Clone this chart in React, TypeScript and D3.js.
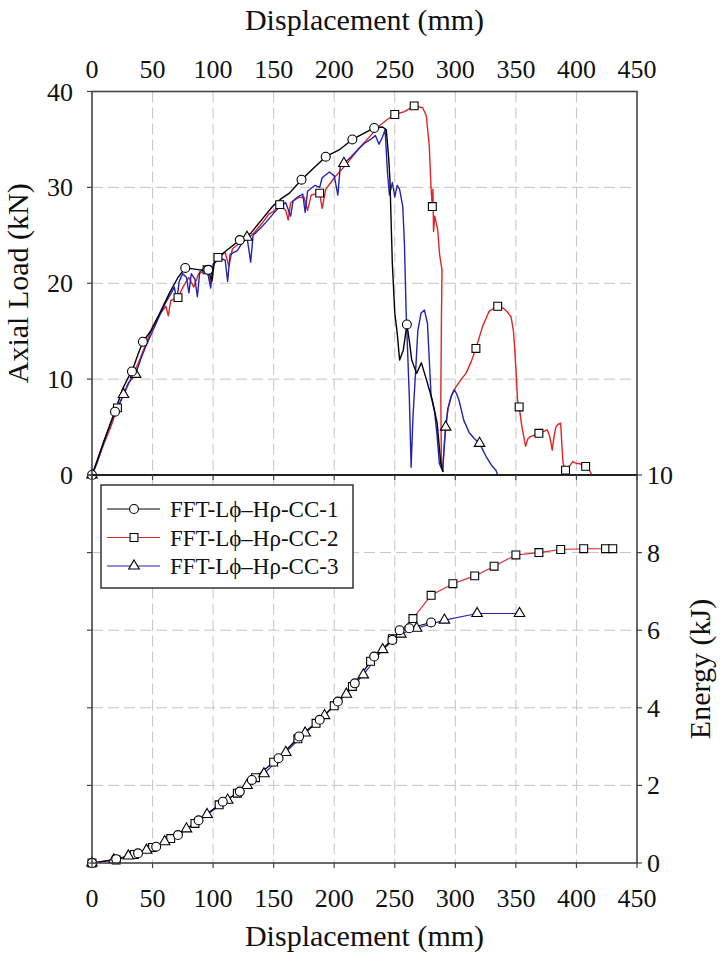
import React, { useEffect, useRef } from 'react';
import * as d3 from 'd3';

// ---------- data ----------
const xTicks = [0, 50, 100, 150, 200, 250, 300, 350, 400, 450];
const loadTicks = [0, 10, 20, 30, 40];
const energyTicks = [0, 2, 4, 6, 8, 10];
const seriesNames = ['FFT-L\u03d5\u2013H\u03c1-CC-1', 'FFT-L\u03d5\u2013H\u03c1-CC-2', 'FFT-L\u03d5\u2013H\u03c1-CC-3'];

// Axial load (kN) vs displacement (mm)
const cc1Load: [number, number][] = [
  [0, 0], [5, 1.8], [10, 3.6], [15, 5.3], [19, 6.6], [25, 8.9], [30, 10.2], [33, 10.8], [38, 12.6], [42, 13.9],
  [49, 15.1], [56, 16.9], [64, 19], [71, 20.6], [77, 21.6], [83, 21.5], [89, 21.4], [96, 21.4], [99, 20.2], [101, 22.2],
  [108, 23.1], [115, 23.8], [122, 24.5], [131, 25.2], [138, 26.3], [149, 28], [156, 28.8], [163, 29.4], [173, 30.8],
  [182, 31.9], [193, 33.2], [204, 33.9], [215, 35], [224, 35.6], [233, 36.2], [240, 36.3], [243, 36], [245, 33],
  [246, 30.8], [248, 22], [250, 16.9], [252, 14.8], [254, 12], [257, 13], [260, 15.7], [262, 14], [264, 12],
  [268, 10.6], [272, 11.7], [276, 10], [281, 7.8], [285, 5.4], [288, 1.2], [290, 0.3],
];
const cc2Load: [number, number][] = [
  [0, 0], [5, 1.6], [10, 3.3], [16, 5.2], [21, 7], [27, 8.6], [33, 10.3], [38, 11.6], [44, 13.5], [50, 15.5],
  [56, 16.8], [61, 17.6], [63, 16.6], [65, 18.2], [71, 18.5], [76, 19.8], [80, 20.6], [84, 19.6], [88, 21],
  [95, 21.4], [98, 20], [100, 21.8], [104, 22.7], [110, 23.2], [113, 21.8], [116, 23.6], [122, 24.2], [128, 24.6],
  [134, 25.3], [140, 26.2], [146, 27.2], [150, 27.5], [155, 28.2], [160, 27.6], [162, 26.6], [164, 28.4],
  [170, 28.9], [175, 29], [178, 27.6], [181, 29.2], [188, 29.4], [190, 27.8], [193, 29.8], [200, 31],
  [210, 32.4], [220, 34], [230, 35.4], [237, 36.4], [243, 37], [250, 37.6], [258, 37.9], [266, 38.5],
  [273, 38.3], [276, 37.5], [278.5, 34.3], [280, 29.8], [281, 28], [281.5, 29.8], [282, 25.4], [283, 27],
  [285.4, 25.6], [287, 23], [289, 21.4], [288.5, 16], [288, 8], [288.5, 1.2], [289.5, 0.5], [291, 3.5],
  [293.7, 6.8], [297, 8.3], [300.5, 9.2], [305, 10], [308.8, 10.6], [313, 11.8], [317, 13.2], [322.5, 15.5],
  [328, 17.1], [335, 17.6], [339.6, 17.4], [343, 17], [346, 16.5], [348, 15], [349, 13.2], [350.5, 10],
  [351.4, 7.8], [352.7, 7.1], [355, 5], [358, 3], [360, 3.8], [362, 4], [366, 4.2], [369, 4.35], [372, 4.5],
  [376, 4.7], [378, 4], [380, 2.6], [381.5, 4], [383, 5], [385, 5.3], [387, 5.4], [388, 3], [389, 1.2],
  [391, 0.5], [394, 0.9], [397, 1.4], [400, 1.2], [402, 1.2], [405, 1.1], [407.6, 0.9], [410, 0.6], [413, 0],
];
const cc3Load: [number, number][] = [
  [0, 0], [4, 1.2], [8, 2.8], [12, 4.2], [17, 6], [22, 7.2], [26, 8.4], [30, 9.6], [36, 10.5], [40, 12],
  [45, 13.6], [50, 15], [55, 16.4], [60, 17.8], [65, 18.9], [68, 19.6], [70, 18.2], [72, 20.2], [75, 21],
  [78, 20.6], [80, 19], [82, 21], [85, 20.4], [87, 18.6], [89, 21.2], [93, 21.5], [96, 20.8], [98, 19.5],
  [100, 22], [106, 22.6], [110, 22.4], [112, 20.2], [114, 23], [120, 23.4], [124, 24.2], [128, 24.8],
  [131, 22.2], [133, 25], [138, 25.6], [144, 26.4], [148, 27], [152, 27.6], [156, 28.1], [160, 28.4],
  [164, 27], [166, 28.6], [170, 29], [174, 29.3], [176, 27.4], [178, 29.6], [184, 30.2], [188, 30],
  [190, 31], [196, 31.6], [200, 31.2], [203, 29.2], [205, 32.2], [208, 32.5], [214, 33.2], [220, 34],
  [225, 34.6], [230, 35], [234, 35.4], [237, 34.5], [240, 35.3], [242, 36], [244, 31.5], [245.6, 29.2],
  [248, 30.5], [250, 29], [252, 30.2], [254, 29.8], [256.6, 28], [258, 24], [259.4, 16.9], [262, 8.2],
  [263.5, 0.8], [265, 6], [267.6, 11.7], [269, 15], [271.7, 16.9], [274.5, 17.2], [277, 15.8], [280, 8.2],
  [283, 6.5], [285, 4], [286.8, 1.2], [289.5, 0.4], [292, 5], [294, 7], [296.5, 8.2], [299, 8.9],
  [301, 8.5], [303, 7.8], [307, 5.7], [311.5, 4.4], [315.6, 3.8], [320, 3.3], [325.5, 1.9], [330, 1],
  [333.5, 0.5], [335, 0],
];

const cc1LoadMarkers: [number, number][] = [
  [0, 0], [19, 6.6], [33, 10.8], [42, 13.9], [77, 21.6], [96, 21.4], [122, 24.5], [173, 30.8], [193, 33.2],
  [215, 35], [233, 36.2], [260, 15.7],
];
const cc2LoadMarkers: [number, number][] = [
  [21, 7], [71, 18.5], [95, 21.4], [104, 22.7], [155, 28.2], [188, 29.4], [250, 37.6], [266, 38.5], [281, 28],
  [317, 13.2], [335, 17.6], [352.7, 7.1], [369, 4.35], [391, 0.5], [407.6, 0.9],
];
const cc3LoadMarkers: [number, number][] = [
  [0, 0], [26, 8.4], [36, 10.5], [128, 24.8], [208, 32.5], [292, 5], [320, 3.3],
];

// Energy (kJ) vs displacement (mm)
const cc1Energy: [number, number][] = [
  [0, 0], [20, 0.1], [38, 0.25], [53, 0.42], [71, 0.72], [88, 1.1], [108, 1.58], [122, 1.84], [132, 2.14],
  [154, 2.7], [171, 3.26], [188, 3.69], [203, 4.16], [217, 4.63], [233, 5.32], [248, 5.75], [254, 6.0],
  [262, 6.05], [280, 6.2],
];
const cc2Energy: [number, number][] = [
  [0, 0], [20, 0.08], [35, 0.22], [50, 0.4], [65, 0.63], [85, 1.02], [105, 1.5], [120, 1.8], [135, 2.2],
  [150, 2.6], [170, 3.2], [185, 3.6], [200, 4.05], [215, 4.55], [230, 5.2], [248, 5.78], [265, 6.3],
  [280, 6.9], [298, 7.2], [316, 7.4], [332, 7.65], [350, 7.94], [369, 8.0], [387, 8.08], [406, 8.1],
  [424, 8.1], [430, 8.1],
];
const cc3Energy: [number, number][] = [
  [0, 0], [18, 0.08], [30, 0.18], [45, 0.33], [60, 0.55], [78, 0.88], [95, 1.25], [112, 1.62], [128, 2.0],
  [142, 2.3], [160, 2.85], [176, 3.35], [192, 3.8], [210, 4.35], [224, 4.85], [240, 5.5], [255, 5.9],
  [268, 6.05], [291, 6.26], [318, 6.43], [353, 6.43],
];

// ---------- styling ----------
const W = 723;
const H = 962;
const FONT = 'Liberation Serif';
const COLORS = ['#000000', '#e02424', '#2323b4'];
const SYMBOLS = [d3.symbolCircle, d3.symbolSquare, d3.symbolTriangle];
const SYM_SIZE = [62, 62, 48];

const x = d3.scaleLinear().domain([0, 450]).range([92, 637]);
const yLoad = d3.scaleLinear().domain([0, 40]).range([475, 91.5]);
const yEnergy = d3.scaleLinear().domain([0, 10]).range([863, 475]);

const loadLine = d3.line<[number, number]>().x(d => x(d[0])).y(d => yLoad(d[1]));
const energyLine = d3.line<[number, number]>().x(d => x(d[0])).y(d => yEnergy(d[1]));

function T(props: any) {
  const { children, ...rest } = props;
  return (
    <text fontFamily={FONT} fill="#111" style={{ fontFamily: FONT }} {...rest}>{children}</text>
  );
}

function Marker({ cx, cy, s }: { cx: number; cy: number; s: number }) {
  const p = d3.symbol().type(SYMBOLS[s]).size(SYM_SIZE[s])() as string;
  return <path d={p} transform={`translate(${cx},${cy})`} fill="#fff" stroke="#000" strokeWidth={1.1} />;
}

export default function App() {
  const ref = useRef<SVGSVGElement>(null);
  useEffect(() => {
    if (ref.current) {
      d3.select(ref.current).selectAll('text').attr('font-family', FONT).style('font-family', FONT);
    }
  }, []);
  const loads = [cc1Load, cc2Load, cc3Load];
  const loadMarkers = [cc1LoadMarkers, cc2LoadMarkers, cc3LoadMarkers];
  const energies = [cc1Energy, cc2Energy, cc3Energy];
  const drawOrder = [1, 2, 0];
  const gridStyle = { stroke: '#c4c4c4', strokeWidth: 1, strokeDasharray: '11,5' };
  const left = x(0), right = x(450);
  return (
    <div style={{ position: 'absolute', left: 0, top: 0, width: W, height: H, background: '#fff' }}>
      <svg ref={ref} width={W} height={H}>
        <defs>
          <clipPath id="clipTop"><rect x={left} y={yLoad(40)} width={right - left} height={yLoad(0) - yLoad(40)} /></clipPath>
          <clipPath id="clipBottom"><rect x={left} y={yEnergy(10)} width={right - left} height={yEnergy(0) - yEnergy(10)} /></clipPath>
        </defs>
        <rect x={0} y={0} width={W} height={H} fill="#fff" />

        {/* grids */}
        {xTicks.slice(1, -1).map(t => (
          <line key={'vg' + t} x1={x(t)} x2={x(t)} y1={yLoad(40)} y2={yEnergy(0)} {...gridStyle} />
        ))}
        {loadTicks.slice(1, -1).map(t => (
          <line key={'hg' + t} x1={left} x2={right} y1={yLoad(t)} y2={yLoad(t)} {...gridStyle} />
        ))}
        {energyTicks.slice(1, -1).map(t => (
          <line key={'eg' + t} x1={left} x2={right} y1={yEnergy(t)} y2={yEnergy(t)} {...gridStyle} />
        ))}

        {/* load curves */}
        <g clipPath="url(#clipTop)">
          {drawOrder.map(i => (
            <path key={'l' + i} d={loadLine(loads[i]) as string} fill="none" stroke={COLORS[i]} strokeWidth={1.4} strokeLinejoin="round" />
          ))}
        </g>
        {drawOrder.map(i => loadMarkers[i].map((d, k) => (
          <Marker key={'lm' + i + '-' + k} cx={x(d[0])} cy={yLoad(d[1])} s={i} />
        )))}

        {/* energy curves */}
        <g clipPath="url(#clipBottom)">
          {drawOrder.map(i => (
            <path key={'e' + i} d={energyLine(energies[i]) as string} fill="none" stroke={COLORS[i]} strokeWidth={1.1} />
          ))}
        </g>
        {drawOrder.map(i => energies[i].map((d, k) => (
          <Marker key={'em' + i + '-' + k} cx={x(d[0])} cy={yEnergy(d[1])} s={i} />
        )))}

        {/* frame */}
        <rect x={left} y={yLoad(40)} width={right - left} height={yEnergy(0) - yLoad(40)} fill="none" stroke="#444" strokeWidth={1.6} />
        <line x1={left} x2={right} y1={yLoad(0)} y2={yLoad(0)} stroke="#222" strokeWidth={2} />

        {/* ticks */}
        {loadTicks.map(t => (
          <line key={'lt' + t} x1={left - 5} x2={left} y1={yLoad(t)} y2={yLoad(t)} stroke="#444" strokeWidth={1.2} />
        ))}
        {energyTicks.map(t => (
          <g key={'et' + t}>
            <line x1={left - 5} x2={left} y1={yEnergy(t)} y2={yEnergy(t)} stroke="#444" strokeWidth={1.2} />
            <line x1={right} x2={right + 5} y1={yEnergy(t)} y2={yEnergy(t)} stroke="#444" strokeWidth={1.2} />
          </g>
        ))}
        {xTicks.map(t => (
          <g key={'xt' + t}>
            <line x1={x(t)} x2={x(t)} y1={yLoad(0)} y2={yLoad(0) + 5} stroke="#444" strokeWidth={1.2} />
            <line x1={x(t)} x2={x(t)} y1={yEnergy(0)} y2={yEnergy(0) + 5} stroke="#444" strokeWidth={1.2} />
          </g>
        ))}

        {/* tick labels */}
        {xTicks.map(t => (
          <T key={'xtt' + t} x={x(t)} y={78} fontSize={26} textAnchor="middle">{t}</T>
        ))}
        {xTicks.map(t => (
          <T key={'xbt' + t} x={x(t)} y={907} fontSize={26} textAnchor="middle">{t}</T>
        ))}
        {loadTicks.map(t => (
          <T key={'ltl' + t} x={73} y={yLoad(t) + 9} fontSize={26} textAnchor="end">{t}</T>
        ))}
        {energyTicks.map(t => (
          <T key={'etl' + t} x={647} y={yEnergy(t) + 9} fontSize={26} textAnchor="start">{t}</T>
        ))}

        {/* axis titles */}
        <T x={(left + right) / 2} y={30} fontSize={30} textAnchor="middle">Displacement (mm)</T>
        <T x={(left + right) / 2} y={946} fontSize={30} textAnchor="middle">Displacement (mm)</T>
        <T transform={`translate(28,${(yLoad(0) + yLoad(40)) / 2}) rotate(-90)`} fontSize={30} textAnchor="middle">Axial Load (kN)</T>
        <T transform={`translate(710,${(yEnergy(0) + yEnergy(10)) / 2}) rotate(-90)`} fontSize={30} textAnchor="middle">Energy (kJ)</T>

        {/* legend */}
        <rect x={101} y={485} width={252} height={103} fill="#fff" stroke="#333" strokeWidth={1.5} />
        {seriesNames.map((name, i) => {
          const cy = 509 + i * 28.5;
          return (
            <g key={'lg' + i}>
              <line x1={107} x2={160} y1={cy} y2={cy} stroke={COLORS[i]} strokeWidth={1.2} />
              <Marker cx={134} cy={cy} s={i} />
              <T x={170} y={cy + 8} fontSize={23}>{name}</T>
            </g>
          );
        })}
      </svg>
    </div>
  );
}
